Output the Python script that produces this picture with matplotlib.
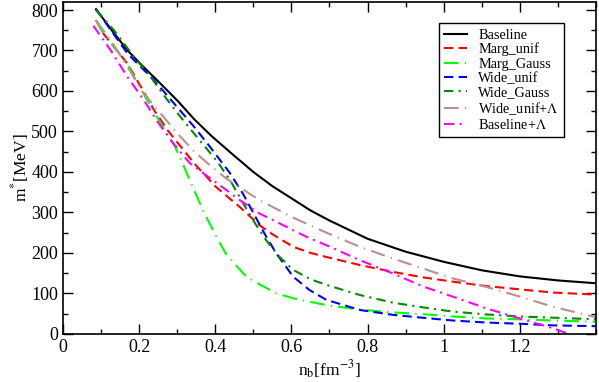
import matplotlib
matplotlib.use("Agg")
import matplotlib.pyplot as plt
from matplotlib.ticker import MultipleLocator

plt.rcParams['font.family'] = ['Liberation Serif', 'DejaVu Serif']
plt.rcParams['mathtext.fontset'] = 'stix'

# Data (n_b in fm^-3, m* in MeV)
x_baseline = [0.087, 0.13, 0.17, 0.21, 0.248, 0.3, 0.345, 0.39, 0.44, 0.5, 0.55, 0.6, 0.65, 0.7,
              0.8, 0.9, 1.0, 1.1, 1.2, 1.3, 1.4]
y_baseline = [802, 748, 700, 661, 626, 577, 530, 489, 448, 400, 365, 335, 305, 280,
              235, 203, 178, 157, 142, 132, 125]

x_marg_unif = [0.087, 0.107, 0.17, 0.205, 0.24, 0.275, 0.31, 0.345, 0.403, 0.465, 0.517, 0.552,
               0.605, 0.65, 0.692, 0.78, 0.867, 0.95, 1.024, 1.112, 1.2, 1.287, 1.4]
y_marg_unif = [775, 741, 667, 610, 552, 503, 462, 421, 362, 313, 268, 245,
               215, 200, 190, 170, 153, 139, 129, 118, 110, 102, 97]

x_marg_gauss = [0.087, 0.107, 0.17, 0.196, 0.222, 0.257, 0.292, 0.318, 0.333, 0.368, 0.403, 0.43,
                0.482, 0.517, 0.561, 0.605, 0.64, 0.692, 0.78, 0.867, 0.954, 1.024, 1.112, 1.2,
                1.287, 1.4]
y_marg_gauss = [775, 741, 667, 618, 577, 520, 468, 413, 380, 305, 240, 195,
                141, 122, 100, 88, 81, 71, 60, 53, 48, 43, 38, 36,
                33, 30]

x_wide_unif = [0.087, 0.17, 0.24, 0.292, 0.345, 0.388, 0.438, 0.473, 0.508, 0.534, 0.561, 0.605,
               0.648, 0.692, 0.78, 0.867, 0.954, 1.024, 1.112, 1.2, 1.287, 1.4]
y_wide_unif = [802, 692, 626, 569, 511, 460, 398, 346, 285, 240, 198, 141,
               108, 84, 59, 47, 39, 33, 28, 25, 21, 19]

x_wide_gauss = [0.087, 0.135, 0.187, 0.231, 0.275, 0.318, 0.362, 0.406, 0.44, 0.475, 0.508, 0.534,
                0.569, 0.605, 0.65, 0.692, 0.78, 0.867, 0.963, 1.024, 1.112, 1.2, 1.287, 1.4]
y_wide_gauss = [800, 749, 684, 634, 577, 525, 475, 425, 378, 320, 268, 231,
                190, 158, 135, 121, 96, 77, 63, 55, 48, 43, 40, 36]

x_wide_unif_L = [0.087, 0.126, 0.17, 0.213, 0.257, 0.301, 0.345, 0.388, 0.43, 0.517, 0.605, 0.692,
                 0.78, 0.867, 0.95, 1.024, 1.112, 1.2, 1.287, 1.4]
y_wide_unif_L = [774, 725, 659, 593, 544, 495, 450, 415, 383, 330, 287, 250,
                 215, 186, 160, 137, 116, 92, 67, 41]

x_baseline_L = [0.08, 0.126, 0.17, 0.213, 0.248, 0.29, 0.333, 0.386, 0.43, 0.465, 0.517, 0.552,
                0.605, 0.639, 0.692, 0.78, 0.867, 0.946, 1.024, 1.112, 1.2, 1.287, 1.322]
y_baseline_L = [761, 700, 634, 577, 525, 470, 422, 385, 355, 330, 297, 281,
                256, 240, 219, 182, 149, 117, 92, 63, 38, 14, 2]

series = [
    ("Baseline", x_baseline, y_baseline, "black", "-"),
    ("Marg_unif", x_marg_unif, y_marg_unif, "#ff0000", (0, (4.5, 2.5))),
    ("Marg_Gauss", x_marg_gauss, y_marg_gauss, "#00ff00", (0, (7, 3, 0.6, 3))),
    ("Wide_unif", x_wide_unif, y_wide_unif, "#0000ff", (0, (4.5, 2.5))),
    ("Wide_Gauss", x_wide_gauss, y_wide_gauss, "#008b00", (0, (4.5, 2.5, 1, 2.5))),
    ("Wide_unif+$\\Lambda$", x_wide_unif_L, y_wide_unif_L, "#bc8f8f", (0, (7, 3, 0.6, 3))),
    ("Baseline+$\\Lambda$", x_baseline_L, y_baseline_L, "#ff00ff", (0, (5, 2.5, 1, 2.5))),
]

fig = plt.figure(figsize=(5.99, 3.82), dpi=100)
ax = fig.add_axes([0.105, 0.126, 0.89, 0.869])

for label, xs, ys, color, ls in series:
    ax.plot(xs, ys, color=color, linestyle=ls, linewidth=1.5, label=label)

ax.set_xlim(0, 1.4)
ax.set_ylim(0, 820)
ax.xaxis.set_minor_locator(MultipleLocator(0.1))
ax.yaxis.set_major_locator(MultipleLocator(100))
ax.yaxis.set_minor_locator(MultipleLocator(50))
ax.tick_params(which='both', direction='in', top=True, right=True, labelsize=13)
ax.tick_params(which='major', length=7, width=1.0)
ax.tick_params(which='minor', length=3.6, width=1.0)
ax.set_xticks([0, 0.2, 0.4, 0.6, 0.8, 1.0, 1.2])
ax.set_xticklabels(["0", "0.2", "0.4", "0.6", "0.8", "1", "1.2"])
for sp in ax.spines.values():
    sp.set_linewidth(1.2)

ax.set_xlabel("n$_\\mathrm{b}$[fm$^{\\mathrm{-3}}$]", fontsize=12.5, labelpad=2)
ax.set_ylabel("m$^{*}$[MeV]", fontsize=12.5, labelpad=0)

leg = ax.legend(loc='upper right', bbox_to_anchor=(0.94, 0.935), fontsize=10.3,
                frameon=True, fancybox=False, edgecolor='black', framealpha=1,
                handlelength=1.6, borderpad=0.35, labelspacing=0.08, handletextpad=0.8,
                borderaxespad=0.0)
leg.get_frame().set_linewidth(1.0)

fig.savefig("out.png", dpi=100)
